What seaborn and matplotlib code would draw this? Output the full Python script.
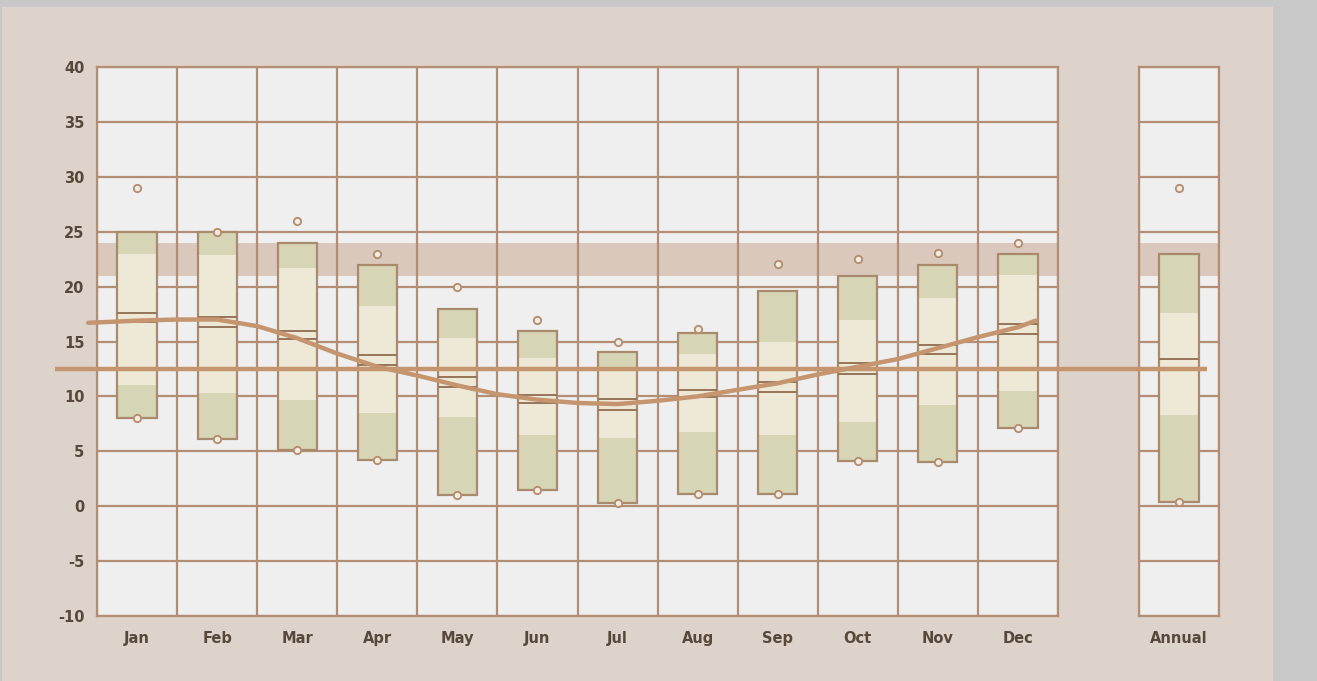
import numpy as np
import pandas as pd
import seaborn as sns
import matplotlib.pyplot as plt
from matplotlib.patches import Rectangle

# monthly values (deg)
months = ['Jan', 'Feb', 'Mar', 'Apr', 'May', 'Jun', 'Jul', 'Aug', 'Sep', 'Oct', 'Nov', 'Dec']
record_high = [29.0, 25.0, 26.0, 23.0, 20.0, 17.0, 15.0, 16.1, 22.1, 22.5, 23.1, 24.0]
box_top = [25.0, 25.0, 24.0, 22.0, 18.0, 16.0, 14.0, 15.8, 19.6, 21.0, 22.0, 23.0]
upper = [23.0, 22.9, 21.7, 18.2, 15.3, 13.5, 12.4, 13.9, 15.0, 17.0, 19.0, 21.1]
mid_hi = [17.6, 17.2, 16.0, 13.75, 11.8, 10.1, 9.8, 10.6, 11.3, 13.0, 14.7, 16.6]
mid_lo = [16.8, 16.3, 15.2, 12.9, 10.9, 9.4, 8.8, 9.9, 10.4, 12.0, 13.9, 15.7]
lower = [11.0, 10.3, 9.7, 8.5, 8.1, 6.5, 6.2, 6.8, 6.5, 7.7, 9.2, 10.5]
box_bottom = [8.0, 6.1, 5.1, 4.2, 1.0, 1.5, 0.3, 1.1, 1.1, 4.1, 4.0, 7.1]

# annual column
ann_high = [29.0]
ann_top = [23.0]
ann_upper = [17.6]
ann_mid_hi = [13.45]
ann_mid_lo = [12.6]
ann_lower = [8.35]
ann_bottom = [0.4]

# smooth monthly curve (x in month units, 0 = left edge of Jan)
curve_x = [-0.11, 0.5, 1.0, 1.5, 2.0, 2.5, 3.0, 3.5, 4.0, 4.5, 5.0, 5.5, 6.0,
           6.5, 7.0, 7.5, 8.0, 8.5, 9.0, 9.5, 10.0, 10.5, 11.0, 11.5, 11.72]
curve_y = [16.7, 16.9, 17.0, 17.0, 16.4, 15.3, 13.9, 12.7, 11.9, 11.0, 10.2, 9.7, 9.4,
           9.3, 9.6, 10.0, 10.6, 11.2, 12.0, 12.7, 13.4, 14.4, 15.4, 16.3, 16.9]
annual_mean = 12.5
band = (21.0, 24.0)

BG = '#ddd3ca'
FACE = '#efefef'
GRID = '#b38e74'
DARK = '#d6d5b5'
LIGHT = '#eee8d7'
EDGE = '#a98a6c'
MID = '#967559'
LINE = '#c4956f'
BAND = '#dac8bc'
TXT = '#56483b'

sns.set_theme(style="white")
plt.rcParams['font.family'] = ['DejaVu Sans']
plt.rcParams['font.weight'] = 'bold'
plt.rcParams['axes.unicode_minus'] = False

fig = plt.figure(figsize=(13.17, 6.81), dpi=100, facecolor='#c8c8c8')
fig.patches.append(Rectangle((2 / 1317, 0), 1271 / 1317, 1 - 7 / 681, transform=fig.transFigure,
                             facecolor=BG, edgecolor='none', zorder=-5))

bottom_frac = 1 - 616 / 681
height_frac = (616 - 67) / 681
ax = fig.add_axes([97 / 1317, bottom_frac, (1058 - 97) / 1317, height_frac])
ax2 = fig.add_axes([1139 / 1317, bottom_frac, 80 / 1317, height_frac])


def draw_boxes(a, xs, top, up, hi, lo, low, bot, high_dots):
    xs = np.asarray(xs, dtype=float)
    top, up, low, bot = map(np.asarray, (top, up, low, bot))
    w = 0.49
    a.bar(xs, low - bot, bottom=bot, width=w, color=DARK, linewidth=0, zorder=2)
    a.bar(xs, up - low, bottom=low, width=w, color=LIGHT, linewidth=0, zorder=2)
    a.bar(xs, top - up, bottom=up, width=w, color=DARK, linewidth=0, zorder=2)
    a.bar(xs, top - bot, bottom=bot, width=w, fill=False, edgecolor=EDGE, linewidth=1.6, zorder=2.5)
    a.hlines(hi, xs - w / 2, xs + w / 2, color=MID, lw=1.4, zorder=2.6)
    a.hlines(lo, xs - w / 2, xs + w / 2, color=MID, lw=1.4, zorder=2.6)
    dots = pd.DataFrame({'x': np.concatenate([xs, xs]), 'y': np.concatenate([high_dots, bot])})
    sns.scatterplot(data=dots, x='x', y='y', ax=a, s=28, marker='o', facecolor='#f1ebe2',
                    edgecolor='#b38c6e', linewidth=1.3, zorder=3, clip_on=False)


for a in (ax, ax2):
    a.set_facecolor(FACE)
    a.axhspan(*band, color=BAND, zorder=0.2, lw=0)
    a.set_ylim(-10, 40)
    a.set_yticks(range(-10, 41, 5))
    a.grid(True, which='major', color=GRID, lw=1.6)
    a.set_axisbelow(True)
    for s in a.spines.values():
        s.set_color(GRID)
        s.set_linewidth(1.6)
    a.tick_params(which='both', length=0, labelsize=10.5, labelcolor=TXT)
    a.tick_params(axis='y', pad=9)
    a.tick_params(axis='x', which='minor', pad=11)

centers = np.arange(12) + 0.5
draw_boxes(ax, centers, box_top, upper, mid_hi, mid_lo, lower, box_bottom, record_high)
sns.lineplot(x=curve_x, y=curve_y, ax=ax, color=LINE, lw=3.2, sort=False, clip_on=False, zorder=4)
ax.plot([-0.52, 13.86], [annual_mean, annual_mean], color=LINE, lw=3.2, clip_on=False, zorder=4,
        solid_capstyle='butt')
ax.set_xlim(0, 12)
ax.set_xticks(range(13))
ax.set_xticklabels([])
ax.set_xticks(centers, minor=True)
ax.set_xticklabels(months, minor=True)
ax.set_xlabel('')
ax.set_ylabel('')
ax.set_zorder(3)

draw_boxes(ax2, [0.5], ann_top, ann_upper, ann_mid_hi, ann_mid_lo, ann_lower, ann_bottom, ann_high)
ax2.set_xlim(0, 1)
ax2.set_xticks([0, 1])
ax2.set_xticklabels([])
ax2.set_xticks([0.5], minor=True)
ax2.set_xticklabels(['Annual'], minor=True)
ax2.set_yticklabels([])
ax2.set_xlabel('')
ax2.set_ylabel('')

fig.savefig('out.png', dpi=100, facecolor=fig.get_facecolor())
